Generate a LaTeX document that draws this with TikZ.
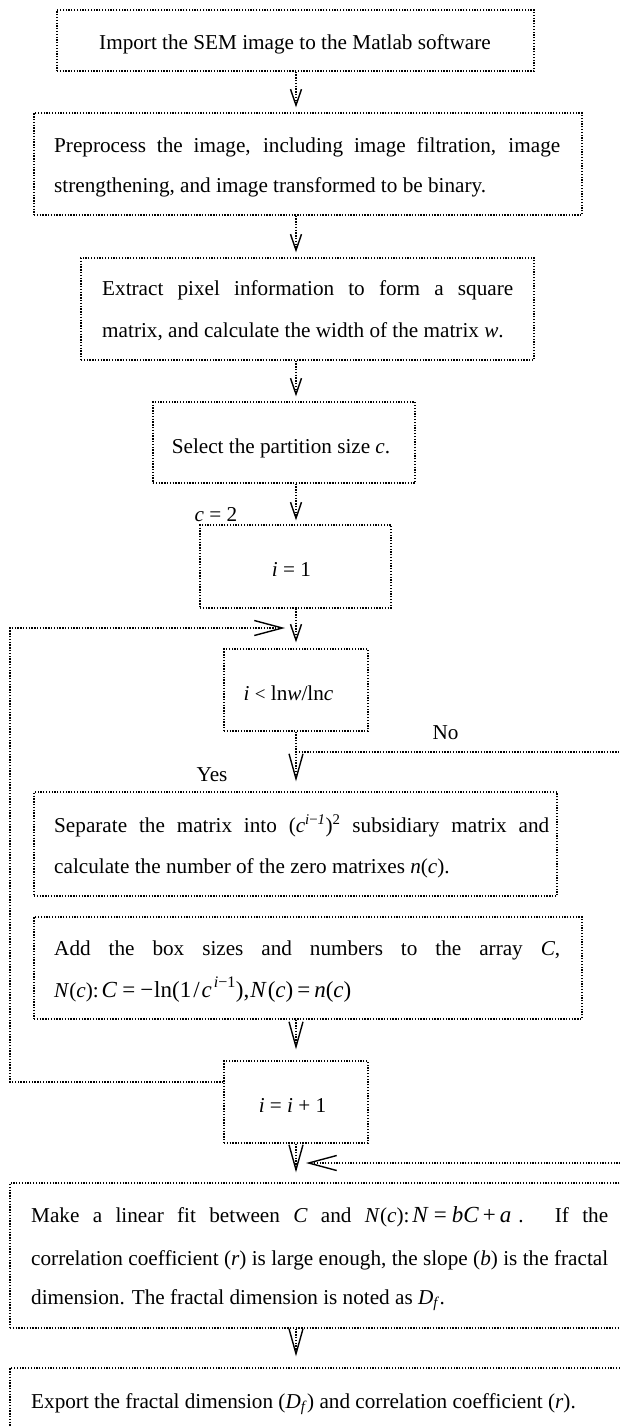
\documentclass[tikz,border=0pt]{standalone}
\usepackage{fontspec}
\setmainfont{Liberation Serif}
\usetikzlibrary{arrows.meta}
\begin{document}
\begin{tikzpicture}[x=1pt,y=-1pt,
  dl/.style={line width=1.3pt, dash pattern=on 1.3pt off 1.5pt},
  box/.style={dl, draw, rectangle, inner sep=0pt},
  txt/.style={inner sep=0pt, font=\fontsize{21.2}{25}\selectfont},
  sarrow/.style={dl, -{Straight Barb[length=16pt,width=11pt,line width=1.4pt]}},
  barrow/.style={dl, -{Straight Barb[length=25pt,width=14pt,line width=1.4pt]}},
  harrow/.style={dl, -{Straight Barb[length=28pt,width=15pt,line width=1.4pt]}},
]
\useasboundingbox (0,0) rectangle (619,1427);
\coordinate (ax) at (296,0);

% boxes
\node[box, minimum width=477pt, minimum height=61pt]  (b1)  at (295.5,40.5) {};
\node[box, minimum width=548pt, minimum height=102pt] (b2)  at (308,164) {};
\node[box, minimum width=453pt, minimum height=102pt] (b3)  at (307.5,309) {};
\node[box, minimum width=262pt, minimum height=81pt]  (b4)  at (284,442.5) {};
\node[box, minimum width=191pt, minimum height=83pt]  (b5)  at (295.5,566.5) {};
\node[box, minimum width=144pt, minimum height=82pt]  (b6)  at (296,690) {};
\node[box, minimum width=523pt, minimum height=104pt] (b7)  at (295.5,844) {};
\node[box, minimum width=548pt, minimum height=102pt] (b8)  at (308,968) {};
\node[box, minimum width=144pt, minimum height=82pt]  (b9)  at (296,1102) {};
\node[box, minimum width=620pt, minimum height=145pt] (b10) at (320,1255.5) {};
\node[box, minimum width=620pt, minimum height=70pt]  (b11) at (320,1403) {};

% texts
\node[txt, anchor=base] (t1) at (295,49) {Import the SEM image to the Matlab software};
\node[txt, anchor=base west] (t2a) at (54,152) {\makebox[506pt][s]{Preprocess the image, including image filtration, image}};
\node[txt, anchor=base west] (t2b) at (54,192) {strengthening, and image transformed to be binary.};
\node[txt, anchor=base west] (t3a) at (102,295) {\makebox[411pt][s]{Extract pixel information to form a square}};
\node[txt, anchor=base west] (t3b) at (102,337) {matrix, and calculate the width of the matrix \textit{w}.};
\node[txt, anchor=base] (t4) at (281,453) {Select the partition size \textit{c}.};
\node[txt, anchor=base] (t5) at (291.5,576) {\textit{i} = 1};
\node[txt, anchor=base] (t6) at (288.5,700) {\textit{i} {\fontsize{19}{25}\selectfont<} ln\textit{w}/ln\textit{c}};
\node[txt, anchor=base west] (t7a) at (54,832) {\makebox[495pt][s]{Separate the matrix into (\textit{c}\textsuperscript{\textit{i}−\textit{1}})\textsuperscript{2} subsidiary matrix and}};
\node[txt, anchor=base west] (t7b) at (54,873) {calculate the number of the zero matrixes \textit{n}(\textit{c}).};
\node[txt, anchor=base west] (t8a) at (54,955) {\makebox[506pt][s]{Add the box sizes and numbers to the array \textit{C},}};
\node[txt, anchor=base west] (t8b) at (54,997) {\textit{N}(\textit{c}):\hspace{3pt}{\fontsize{23}{25}\selectfont\textit{C}\hspace{5pt}=\hspace{5pt}−\hspace{1pt}ln(1\hspace{2pt}/\hspace{2pt}\textit{c}\hspace{2pt}\textsuperscript{\textit{i}−1}),\hspace{1pt}\textit{N}\hspace{1pt}(\textit{c})\hspace{4pt}=\hspace{4pt}\textit{n}(\textit{c})}};
\node[txt, anchor=base] (t9) at (292.5,1112) {\textit{i} = \textit{i} + 1};
\node[txt, anchor=base west] (t10a) at (31,1222) {\makebox[577pt][s]{Make a linear fit between \textit{C} and \textit{N}(\textit{c}):\hspace{3pt}{\fontsize{23}{25}\selectfont\textit{N}\hspace{5pt}=\hspace{5pt}\textit{bC}\hspace{4pt}+\hspace{4pt}\textit{a}}\hspace{7pt}. If the}};
\node[txt, anchor=base west] (t10b) at (31,1265) {\makebox[577pt][s]{correlation coefficient (\textit{r}) is large enough, the slope (\textit{b}) is the fractal}};
\node[txt, anchor=base west] (t10c) at (31,1304) {dimension. The fractal dimension is noted as \textit{D}\textsubscript{\textit{f}}.};
\node[txt, anchor=base west] (t11) at (31,1408) {Export the fractal dimension (\textit{D}\textsubscript{\textit{f}}) and correlation coefficient (\textit{r}).};

% labels
\node[txt, anchor=base] (lc) at (216,521) {\textit{c} = 2};
\node[txt, anchor=base] (lno) at (445.5,739) {No};
\node[txt, anchor=base] (lyes) at (212,781) {Yes};

% main connectors
\draw[sarrow, shorten >=5pt] (b1.south -| ax) -- (b2.north -| ax);
\draw[sarrow, shorten >=5pt] (b2.south -| ax) -- (b3.north -| ax);
\draw[sarrow, shorten >=5pt] (b3.south -| ax) -- (b4.north -| ax);
\draw[sarrow, shorten >=4pt] (b4.south -| ax) -- (b5.north -| ax);
\draw[sarrow, shorten >=6pt] (b5.south -| ax) -- (b6.north -| ax);
\draw[barrow, shorten >=10pt] (b6.south -| ax) -- (b7.north -| ax);
\draw[barrow, shorten >=11pt] (b8.south -| ax) -- (b9.north -| ax);
\draw[barrow, shorten >=10pt] (b9.south -| ax) -- (b10.north -| ax);
\draw[barrow, shorten >=11pt] (b10.south -| ax) -- (b11.north -| ax);

% loop back
\coordinate (lp1) at (10,1082);
\coordinate (lp2) at (10,628);
\coordinate (lp3) at (285,628);
\draw[harrow] (b9.west |- lp1) -- (lp1) -- (lp2) -- (lp3);

% No branch
\coordinate (n1) at (296,752);
\coordinate (n2) at (640,752);
\draw[dl] (n1) -- (n2);
\coordinate (r1) at (640,1163);
\coordinate (r2) at (306,1163);
\draw[harrow] (r1) -- (r2);
\end{tikzpicture}
\end{document}
